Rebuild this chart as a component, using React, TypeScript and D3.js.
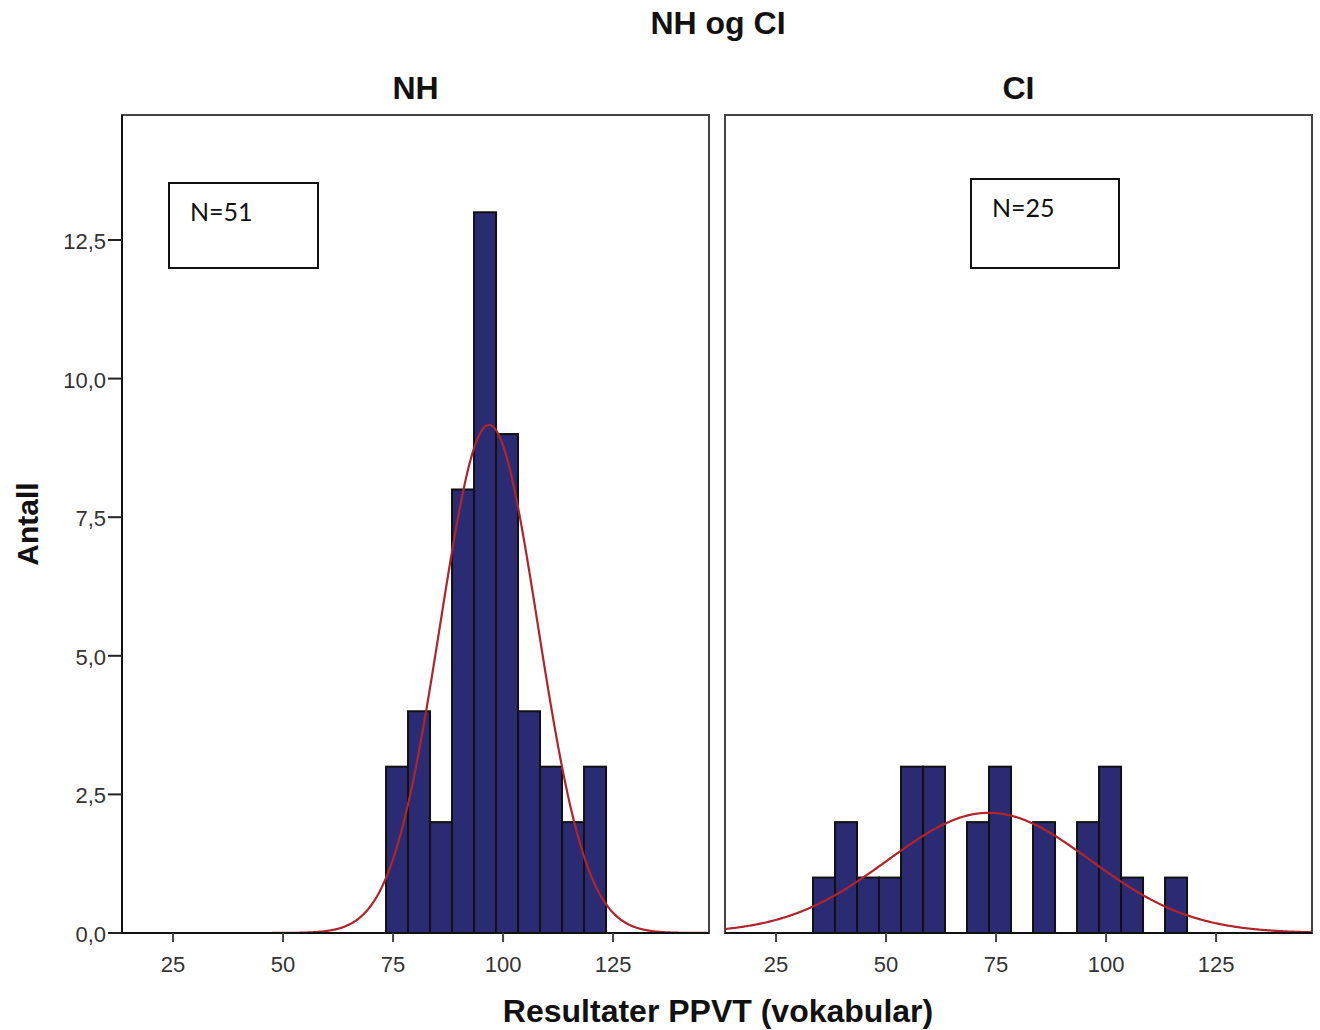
import React from "react";
import * as d3 from "d3";

const binWidth = 5;
const nhBinStart = 73.4;
const nhCounts = [3, 4, 2, 8, 13, 9, 4, 3, 2, 3];
const ciBinStart = 33.4;
const ciCounts = [1, 2, 1, 1, 3, 3, 0, 2, 3, 0, 2, 0, 2, 3, 1, 0, 1];
const nhStats = { n: 51, mean: 96.8, sd: 11.1 };
const ciStats = { n: 25, mean: 73.4, sd: 23.0 };
const xTicks = [25, 50, 75, 100, 125];
const yTicks = [0, 2.5, 5, 7.5, 10, 12.5];
const panelTitles = ["NH", "CI"];

const W = 1320, H = 1030;
const top = 115, bottom = 933;
const panelW = 587;
const panelLefts = [122, 725];
const xDomain: [number, number] = [13.4, 146.8];

const yScale = d3.scaleLinear().domain([0, 12.5]).range([bottom, 240]);
const fmt = (v: number) => v.toFixed(1).replace(".", ",");

function Panel({ left, counts, start, stats, title, showY, box }: any) {
  const x = d3.scaleLinear().domain(xDomain).range([left, left + panelW]);
  const bins = counts.map((c: number, i: number) => ({ x0: start + i * binWidth, x1: start + (i + 1) * binWidth, c }));
  const pts = d3.range(xDomain[0], xDomain[1] + 0.01, 0.25);
  const dens = (v: number) =>
    (stats.n * binWidth) / (stats.sd * Math.sqrt(2 * Math.PI)) * Math.exp(-((v - stats.mean) ** 2) / (2 * stats.sd ** 2));
  const line = d3.line<number>().x((d) => x(d)).y((d) => yScale(dens(d))).curve(d3.curveBasis);
  return (
    <g>
      <rect x={left} y={top} width={panelW} height={bottom - top} fill="white" stroke="#444" strokeWidth={2} />
      {bins.filter((b: any) => b.c > 0).map((b: any, i: number) => (
        <rect key={i} x={x(b.x0)} y={yScale(b.c)} width={x(b.x1) - x(b.x0)} height={bottom - yScale(b.c)}
          fill="#2a2b72" stroke="#111" strokeWidth={2} />
      ))}
      <path d={line(pts) || ""} fill="none" stroke="#b1242c" strokeWidth={2.2} />
      <line x1={left} x2={left + panelW} y1={bottom} y2={bottom} stroke="#111" strokeWidth={2} />
      {xTicks.map((t) => (
        <g key={t}>
          <line x1={x(t)} x2={x(t)} y1={bottom} y2={bottom + 9} stroke="#444" strokeWidth={2} />
          <text x={x(t)} y={972} textAnchor="middle" fontFamily="Liberation Sans" fontSize={22} fill="#333">{t}</text>
        </g>
      ))}
      {showY && (
        <g>
          <line x1={left} x2={left} y1={top} y2={bottom} stroke="#111" strokeWidth={2} />
          {yTicks.map((t) => (
            <g key={t}>
              <line x1={left - 14} x2={left} y1={yScale(t)} y2={yScale(t)} stroke="#222" strokeWidth={2} />
              <text x={left - 16} y={yScale(t) + 9} textAnchor="end" fontFamily="Liberation Sans" fontSize={22} fill="#333">{fmt(t)}</text>
            </g>
          ))}
        </g>
      )}
      <text x={left + panelW / 2} y={99} textAnchor="middle" fontFamily="Liberation Sans" fontWeight="bold" fontSize={32} fill="#111">{title}</text>
      <rect x={box.x} y={box.y} width={box.w} height={box.h} fill="white" stroke="#111" strokeWidth={2} />
      <text x={box.x + 21} y={box.ty} fontFamily="Lato" fontSize={25} fill="#111">{"N=" + stats.n}</text>
    </g>
  );
}

export default function App() {
  return (
    <svg width={W} height={H} style={{ position: "absolute", left: 0, top: 0, background: "white" }}>
      <rect width={W} height={H} fill="white" />
      <text x={718} y={34} textAnchor="middle" fontFamily="Liberation Sans" fontWeight="bold" fontSize={32} fill="#111">NH og CI</text>
      <Panel left={panelLefts[0]} counts={nhCounts} start={nhBinStart} stats={nhStats} title={panelTitles[0]} showY
        box={{ x: 169, y: 183, w: 149, h: 85, ty: 221 }} />
      <Panel left={panelLefts[1]} counts={ciCounts} start={ciBinStart} stats={ciStats} title={panelTitles[1]} showY={false}
        box={{ x: 971, y: 179, w: 148, h: 89, ty: 217 }} />
      <text transform="translate(38,524) rotate(-90)" textAnchor="middle" fontFamily="Liberation Sans" fontWeight="bold" fontSize={30} fill="#111">Antall</text>
      <text x={718} y={1022} textAnchor="middle" fontFamily="Liberation Sans" fontWeight="bold" fontSize={32} fill="#111">Resultater PPVT (vokabular)</text>
    </svg>
  );
}
